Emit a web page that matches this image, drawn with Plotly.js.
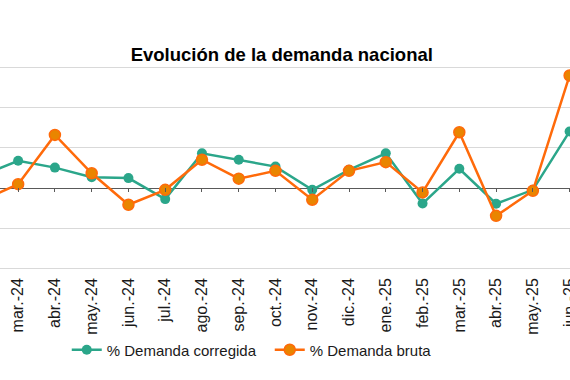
<!DOCTYPE html>
<html>
<head>
<meta charset="utf-8">
<script src="https://cdn.plot.ly/plotly-3.0.1.min.js"></script>
<style>
html,body{margin:0;padding:0;overflow:hidden;background:#fff;width:570px;height:380px;}
#chart{position:absolute;left:-37px;top:0;width:625px;height:380px;}
</style>
</head>
<body>
<div id="chart"></div>
<script>
const months = ["feb.-24","mar.-24","abr.-24","may.-24","jun.-24","jul.-24","ago.-24","sep.-24","oct.-24","nov.-24","dic.-24","ene.-25","feb.-25","mar.-25","abr.-25","may.-25","jun.-25"];
const demandaCorregida = [0.62,1.36,1.02,0.54,0.50,-0.54,1.73,1.41,1.07,-0.08,0.91,1.73,-0.76,0.96,-0.77,-0.08,2.81];
const demandaBruta = [-0.62,0.20,2.64,0.74,-0.82,-0.08,1.41,0.47,0.86,-0.57,0.86,1.29,-0.21,2.77,-1.37,-0.13,5.58];

const green = "#2BA68A";
const orange = "#FF6A0A";

const traces = [
  {
    x: months, y: demandaCorregida, name: "% Demanda corregida",
    type: "scatter", mode: "lines+markers", xaxis: "x", yaxis: "y",
    line: {color: green, width: 2.5},
    marker: {color: green, size: 10, line: {color: green, width: 0}},
    cliponaxis: true
  },
  {
    x: months, y: demandaBruta, name: "% Demanda bruta",
    type: "scatter", mode: "lines+markers", xaxis: "x2", yaxis: "y",
    line: {color: orange, width: 2.5},
    marker: {color: "#E98500", size: 11, line: {color: orange, width: 1.5}},
    cliponaxis: true
  }
];

const catRange = [-0.5, months.length - 0.5];

const layout = {
  width: 625, height: 380,
  margin: {l: 0, r: 0, t: 66, b: 110, pad: 0},
  paper_bgcolor: "#ffffff", plot_bgcolor: "#ffffff",
  font: {family: "Liberation Sans, Arial, sans-serif", color: "#262626"},
  title: {
    text: "<b>Evolución de la demanda nacional</b>",
    font: {family: "Liberation Sans, Arial, sans-serif", size: 18.5, color: "#000000"},
    xref: "container", x: 0.51, xanchor: "center",
    yref: "container", y: 1 - 55/380, yanchor: "middle"
  },
  xaxis: {
    type: "category", categoryorder: "array", categoryarray: months,
    range: catRange, showgrid: false, zeroline: false, showline: false,
    ticks: "", tickangle: -90, tickfont: {size: 16, color: "#1a1a1a"},
    ticklabelstandoff: 4,
    automargin: false
  },
  xaxis2: {
    type: "category", categoryorder: "array", categoryarray: months,
    range: catRange, overlaying: "x", anchor: "free", position: 83/204,
    showgrid: false, zeroline: false, showline: false, showticklabels: false,
    ticks: "outside", ticklen: 4, tickwidth: 1, tickcolor: "#595959",
    automargin: false
  },
  yaxis: {
    range: [-4.05, 6.05], tickvals: [-4, -2, 0, 2, 4, 6], showticklabels: false,
    showgrid: true, gridcolor: "#D9D9D9", gridwidth: 1,
    zeroline: true, zerolinecolor: "#595959", zerolinewidth: 1,
    showline: false, ticks: "", automargin: false, fixedrange: true
  },
  showlegend: true,
  legend: {
    orientation: "h", xref: "container", x: 0.166, xanchor: "left",
    yref: "container", y: 1 - 350/380, yanchor: "middle",
    font: {size: 15, color: "#1a1a1a"}, bgcolor: "rgba(0,0,0,0)",
    traceorder: "normal", entrywidth: 158, entrywidthmode: "pixels"
  }
};

Plotly.newPlot("chart", traces, layout, {displayModeBar: false, staticPlot: true});
</script>
</body>
</html>
